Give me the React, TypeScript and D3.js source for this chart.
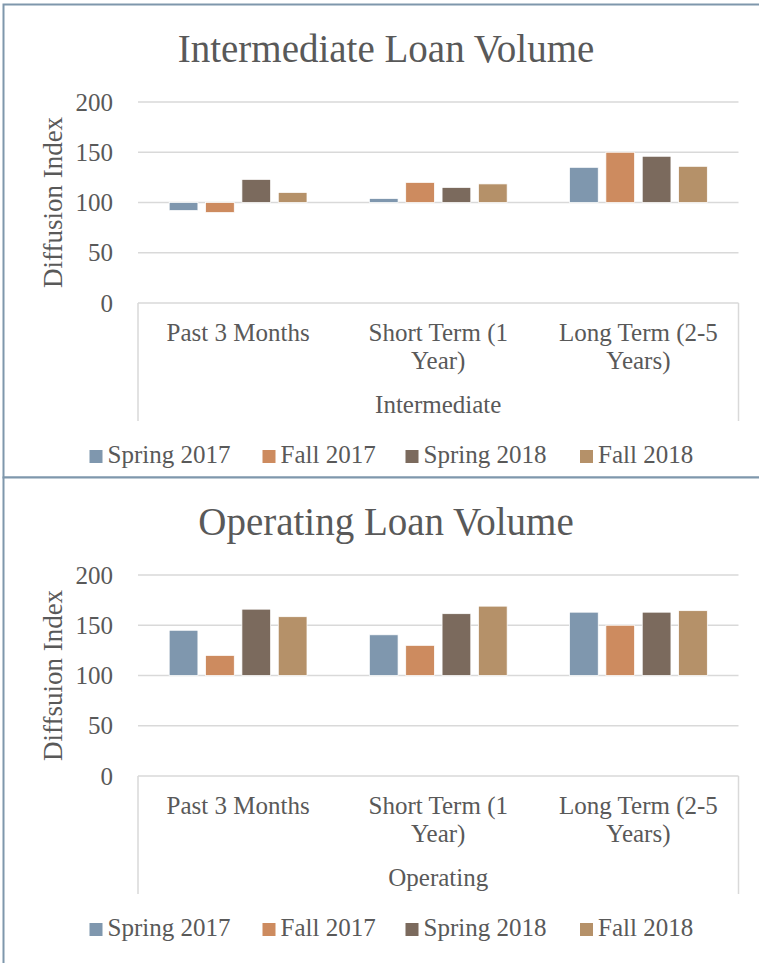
import React from "react";
import * as d3 from "d3";

const categories = ["Past 3 Months", "Short Term (1 Year)", "Long Term (2-5 Years)"];
const seriesNames = ["Spring 2017", "Fall 2017", "Spring 2018", "Fall 2018"];
const seriesColors = ["#7F97AE", "#CD8B5F", "#7B6A5D", "#B59169"];
const yTicks = [0, 50, 100, 150, 200];

// Intermediate: one array per series, one value per category
const intermediateSpring2017 = [92, 104, 135];
const intermediateFall2017 = [90, 120, 150];
const intermediateSpring2018 = [123, 115, 146];
const intermediateFall2018 = [110, 118.5, 136];

const operatingSpring2017 = [145, 140.5, 163];
const operatingFall2017 = [120, 130, 150];
const operatingSpring2018 = [166, 161.5, 163];
const operatingFall2018 = [158.5, 169, 164.5];

const legendOffsets = [89.5, 262.5, 405.5, 580];

const FONT = "'Liberation Serif', 'Times New Roman', serif";
const TEXT = "#595959";
const GRID = "#D9D9D9";

function wrapLabel(label: string, maxChars = 14): string[] {
  const words = label.split(" ");
  const lines: string[] = [];
  let cur = "";
  for (const w of words) {
    const next = cur ? cur + " " + w : w;
    if (next.length > maxChars && cur) {
      lines.push(cur);
      cur = w;
    } else cur = next;
  }
  if (cur) lines.push(cur);
  return lines;
}

type ChartProps = {
  top: number;
  frameHeight: number;
  title: string;
  yTitle: string;
  xTitle: string;
  series: number[][];
};

function Chart({ top, frameHeight, title, yTitle, xTitle, series }: ChartProps) {
  const left = 138;
  const right = 738.5;
  const plotTop = top + 97.5;
  const plotBottom = top + 298.5;
  const y = d3.scaleLinear().domain([0, 200]).range([plotBottom, plotTop]);
  const x0 = d3
    .scaleBand<string>()
    .domain(categories)
    .range([left, right])
    .paddingInner(0.3115)
    .paddingOuter(0.1558);
  const x1 = d3
    .scaleBand<string>()
    .domain(seriesNames)
    .range([0, x0.bandwidth()])
    .paddingInner(0.21)
    .paddingOuter(0);
  const base = 100;
  const cx = (left + right) / 2;

  return (
    <g>
      <rect x={3.5} y={top} width={800} height={frameHeight} fill="#fff" stroke="#7F97AC" strokeWidth={2} />
      <text x={386} y={top + 57} textAnchor="middle" fontFamily={FONT} fontSize={39} fill={TEXT}>
        {title}
      </text>
      {yTicks.map((t) => (
        <g key={t}>
          <line x1={left} x2={right} y1={y(t)} y2={y(t)} stroke={GRID} strokeWidth={1.5} />
          <text x={113} y={y(t) + 8.5} textAnchor="end" fontFamily={FONT} fontSize={25} fill={TEXT}>
            {t}
          </text>
        </g>
      ))}
      <line x1={left} x2={left} y1={y(0)} y2={y(0) + 118} stroke={GRID} strokeWidth={1.5} />
      <line x1={right} x2={right} y1={y(0)} y2={y(0) + 118} stroke={GRID} strokeWidth={1.5} />
      <text
        transform={`translate(62,${(plotTop + plotBottom) / 2}) rotate(-90)`}
        textAnchor="middle"
        fontFamily={FONT}
        fontSize={27}
        fill={TEXT}
      >
        {yTitle}
      </text>
      {categories.map((c, ci) => (
        <g key={c}>
          {seriesNames.map((s, si) => {
            const v = series[si][ci];
            const yTop = Math.min(y(v), y(base));
            const h = Math.abs(y(v) - y(base));
            return (
              <rect
                key={s}
                x={(x0(c) as number) + (x1(s) as number)}
                y={yTop}
                width={x1.bandwidth()}
                height={h}
                fill={seriesColors[si]}
                stroke="#fff"
                strokeWidth={0.75}
              />
            );
          })}
          {wrapLabel(c).map((line, li) => (
            <text
              key={li}
              x={(x0(c) as number) + x0.bandwidth() / 2}
              y={y(0) + 38 + li * 27.5}
              textAnchor="middle"
              fontFamily={FONT}
              fontSize={25}
              fill={TEXT}
            >
              {line}
            </text>
          ))}
        </g>
      ))}
      <text x={cx} y={y(0) + 110} textAnchor="middle" fontFamily={FONT} fontSize={25} fill={TEXT}>
        {xTitle}
      </text>
      {seriesNames.map((s, si) => (
        <g key={s}>
          <rect x={legendOffsets[si]} y={y(0) + 147} width={13} height={13} fill={seriesColors[si]} />
          <text x={legendOffsets[si] + 18} y={y(0) + 160} fontFamily={FONT} fontSize={25} fill={TEXT}>
            {s}
          </text>
        </g>
      ))}
    </g>
  );
}

export default function App() {
  return (
    <svg
      width={759}
      height={963}
      style={{ position: "absolute", left: 0, top: 0, background: "#fff" }}
    >
      <rect x={0} y={0} width={759} height={963} fill="#fff" />
      <Chart
        top={4.5}
        frameHeight={473}
        title="Intermediate Loan Volume"
        yTitle="Diffusion Index"
        xTitle="Intermediate"
        series={[intermediateSpring2017, intermediateFall2017, intermediateSpring2018, intermediateFall2018]}
      />
      <Chart
        top={477.5}
        frameHeight={600}
        title="Operating Loan Volume"
        yTitle="Diffsuion Index"
        xTitle="Operating"
        series={[operatingSpring2017, operatingFall2017, operatingSpring2018, operatingFall2018]}
      />
    </svg>
  );
}
